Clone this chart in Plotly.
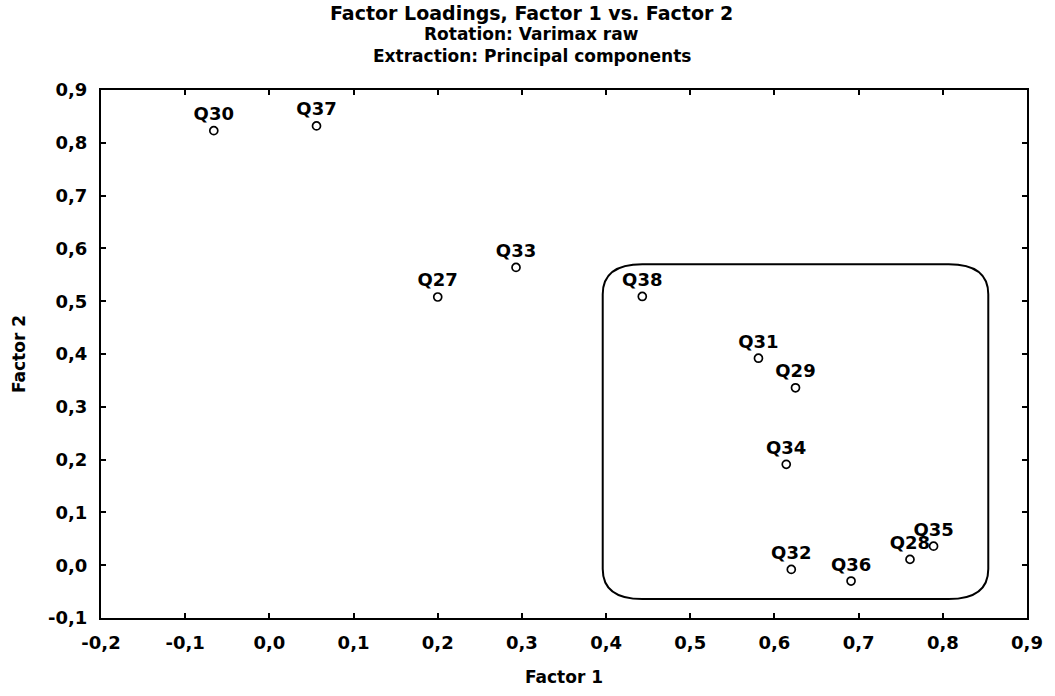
import plotly.graph_objects as go

labels = ["Q30", "Q37", "Q27", "Q33", "Q38", "Q31", "Q29", "Q34", "Q32", "Q36", "Q28", "Q35"]
factor1 = [-0.066, 0.056, 0.200, 0.293, 0.443, 0.581, 0.625, 0.614, 0.620, 0.691, 0.761, 0.789]
factor2 = [0.823, 0.832, 0.508, 0.564, 0.509, 0.392, 0.336, 0.191, -0.008, -0.030, 0.011, 0.036]

x_tickvals = [-0.2, -0.1, 0.0, 0.1, 0.2, 0.3, 0.4, 0.5, 0.6, 0.7, 0.8, 0.9]
x_ticktext = ["-0,2", "-0,1", "0,0", "0,1", "0,2", "0,3", "0,4", "0,5", "0,6", "0,7", "0,8", "0,9"]
y_tickvals = [-0.1, 0.0, 0.1, 0.2, 0.3, 0.4, 0.5, 0.6, 0.7, 0.8, 0.9]
y_ticktext = ["-0,1", "0,0", "0,1", "0,2", "0,3", "0,4", "0,5", "0,6", "0,7", "0,8", "0,9"]

title_lines = ["Factor Loadings, Factor 1 vs. Factor 2", "Rotation: Varimax raw", "Extraction: Principal components"]

# highlighted cluster box (data coords) and its corner radii
box_x0, box_x1, box_y0, box_y1 = 0.396, 0.854, -0.064, 0.570
rx, ry = 0.047, 0.057

FONT = "DejaVu Sans"

fig = go.Figure()
fig.add_trace(go.Scatter(
    x=factor1, y=factor2, text=labels, mode="markers+text",
    textposition="top center",
    textfont=dict(family=FONT, size=18, color="black", weight="bold"),
    marker=dict(symbol="circle-open", size=8, color="black", line=dict(width=1.7, color="black")),
    showlegend=False, hoverinfo="skip",
))

path = (f"M {box_x0+rx},{box_y1} L {box_x1-rx},{box_y1} Q {box_x1},{box_y1} {box_x1},{box_y1-ry} "
        f"L {box_x1},{box_y0+ry} Q {box_x1},{box_y0} {box_x1-rx},{box_y0} "
        f"L {box_x0+rx},{box_y0} Q {box_x0},{box_y0} {box_x0},{box_y0+ry} "
        f"L {box_x0},{box_y1-ry} Q {box_x0},{box_y1} {box_x0+rx},{box_y1} Z")
fig.add_shape(type="path", path=path, xref="x", yref="y", line=dict(color="black", width=2))

title_y = [13, 34, 56]
title_sizes = [19, 17, 17]
for t, yy, fs in zip(title_lines, title_y, title_sizes):
    fig.add_annotation(text=t, xref="paper", yref="paper", x=(535 - 101) / 933,
                       y=(620 - yy) / 530, yanchor="middle", xanchor="center",
                       showarrow=False, font=dict(family=FONT, size=fs, color="black", weight="bold"))

axis_common = dict(
    showline=True, linecolor="black", linewidth=2, mirror="ticks",
    ticks="inside", ticklen=5, tickwidth=1.5, tickcolor="black",
    showgrid=False, zeroline=False,
    tickfont=dict(family=FONT, size=18, color="black", weight="bold"),
)
fig.update_xaxes(range=[-0.2, 0.9], tickvals=x_tickvals, ticktext=x_ticktext,
                 ticklabelstandoff=7,
                 title=dict(text="Factor 1", font=dict(family=FONT, size=17, color="black", weight="bold"), standoff=20),
                 **axis_common)
fig.update_yaxes(range=[-0.1, 0.9], tickvals=y_tickvals, ticktext=y_ticktext,
                 ticklabelstandoff=8,
                 title=dict(text="Factor 2", font=dict(family=FONT, size=17, color="black", weight="bold"), standoff=18),
                 **axis_common)

fig.update_layout(
    width=1055, height=696,
    margin=dict(l=101, r=21, t=90, b=76),
    paper_bgcolor="white", plot_bgcolor="white",
    font=dict(family=FONT, color="black"),
)
fig.write_html("out.html")
